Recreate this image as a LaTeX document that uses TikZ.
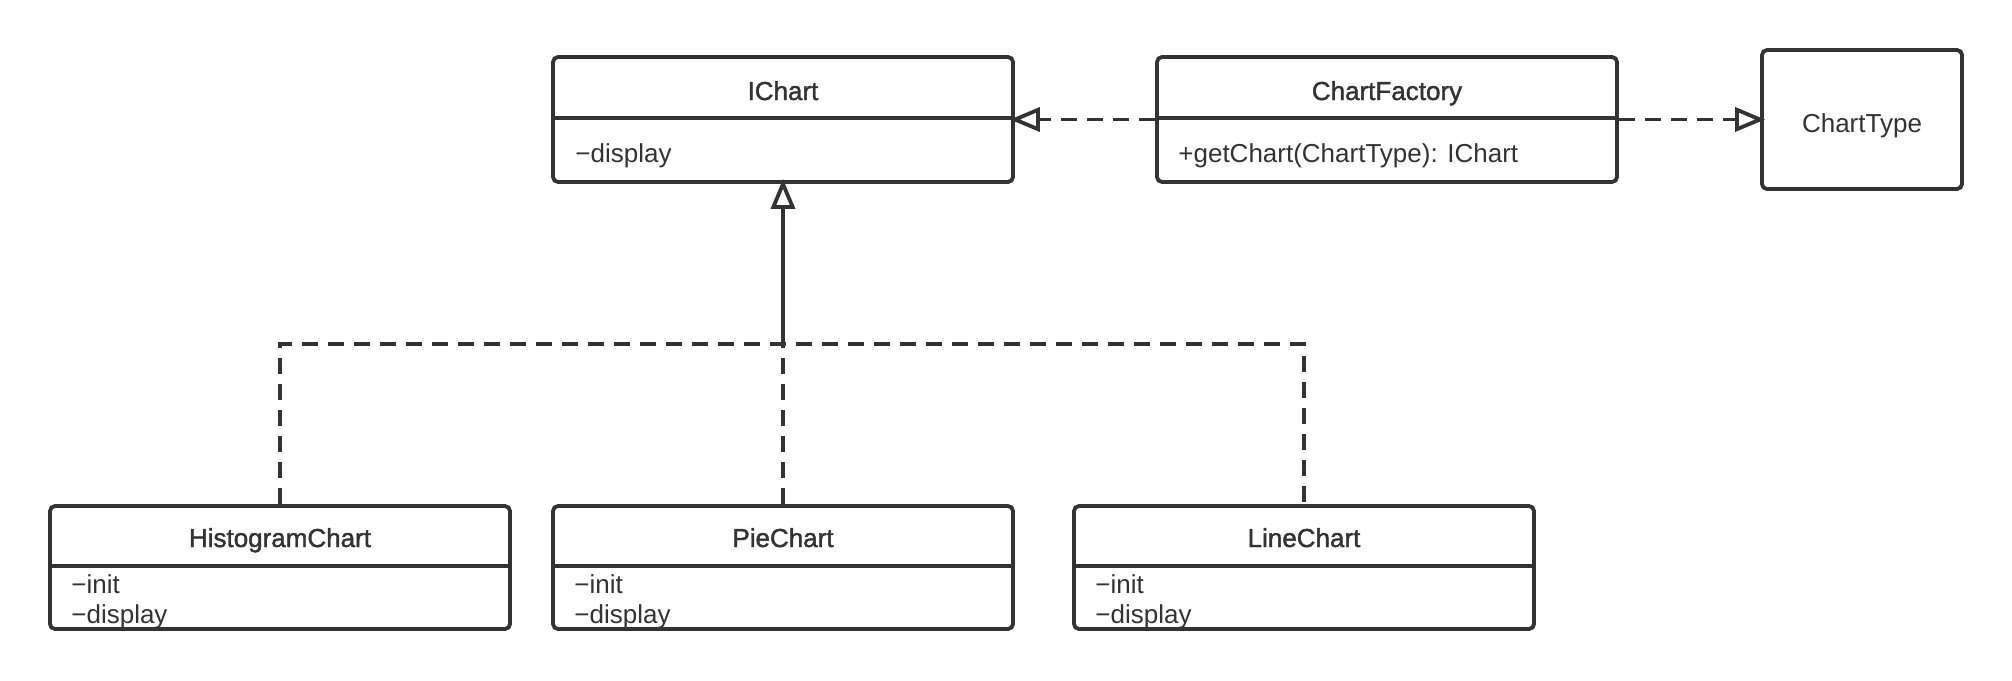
\documentclass[tikz,border=0pt]{standalone}
\usepackage{fontspec}
\setmainfont{Liberation Sans}
\newfontfamily\titlefont[FakeBold=1.5]{Liberation Sans}
\usetikzlibrary{arrows.meta}
\definecolor{ink}{HTML}{333333}
\tikzset{
  box/.style={draw=ink, line width=1.9pt, rounded corners=2.5pt, inner sep=0pt, fill=white},
  ln/.style={draw=ink, line width=1.9pt},
  dsh/.style={ln, dash pattern=on 8pt off 5pt},
  titletext/.style={font=\titlefont\fontsize{13}{15}\selectfont, text=ink, anchor=base, inner sep=0pt},
  plaintext/.style={font=\fontsize{13}{15}\selectfont, text=ink, anchor=base, inner sep=0pt},
  attr/.style={font=\fontsize{13}{15}\selectfont, text=ink, anchor=base west, inner sep=0pt},
  realize/.style={-{Triangle[open, length=15pt, width=12pt, line width=1.9pt]}, shorten >=-2.5pt},
}
\begin{document}
\begin{tikzpicture}[x=0.5pt, y=-0.5pt]
\useasboundingbox (0,0) rectangle (2012,680);
% boxes
\node[box, minimum width=230pt, minimum height=62.5pt] (ichart) at (783,119.5) {};
\node[box, minimum width=230pt, minimum height=62.5pt] (cf) at (1387,119.5) {};
\node[box, minimum width=100pt, minimum height=69.5pt] (ct) at (1862,119.5) {};
\node[box, minimum width=230pt, minimum height=61.5pt] (hist) at (280,567.5) {};
\node[box, minimum width=230pt, minimum height=61.5pt] (pie) at (783,567.5) {};
\node[box, minimum width=230pt, minimum height=61.5pt] (linec) at (1304,567.5) {};
% dividers
\draw[ln] (ichart.west |- 0,118) -- (ichart.east |- 0,118);
\draw[ln] (cf.west |- 0,118) -- (cf.east |- 0,118);
\draw[ln] (hist.west |- 0,566) -- (hist.east |- 0,566);
\draw[ln] (pie.west |- 0,566) -- (pie.east |- 0,566);
\draw[ln] (linec.west |- 0,566) -- (linec.east |- 0,566);
% texts
\node[titletext] (ichartT) at (783,100) {IChart};
\node[attr] (ichartA) at (575,162) {−display};
\node[titletext] (cfT) at (1387,100) {ChartFactory};
\node[attr] (cfA) at (1178,162) {+getChart(ChartType): IChart};
\node[plaintext] (ctT) at (1862,132) {ChartType};
\node[titletext] (histT) at (280,547) {HistogramChart};
\node[attr] (histA) at (71,593) {−init};
\node[attr] (histB) at (71,623) {−display};
\node[titletext] (pieT) at (783,547) {PieChart};
\node[attr] (pieA) at (574,593) {−init};
\node[attr] (pieB) at (574,623) {−display};
\node[titletext] (lineT) at (1304,547) {LineChart};
\node[attr] (lineA) at (1095,593) {−init};
\node[attr] (lineB) at (1095,623) {−display};
% connectors
\coordinate (j) at (ichart.south |- 0,344);
\draw[dsh, realize] (cf.west) -- (ichart.east);
\draw[dsh, realize] (cf.east) -- (ct.west);
\draw[dsh] (hist.north) -- (hist.north |- j) -- (linec.north |- j) -- (linec.north);
\draw[dsh] (pie.north) -- (j);
\draw[ln, realize] (j) -- (ichart.south);
\end{tikzpicture}
\end{document}
